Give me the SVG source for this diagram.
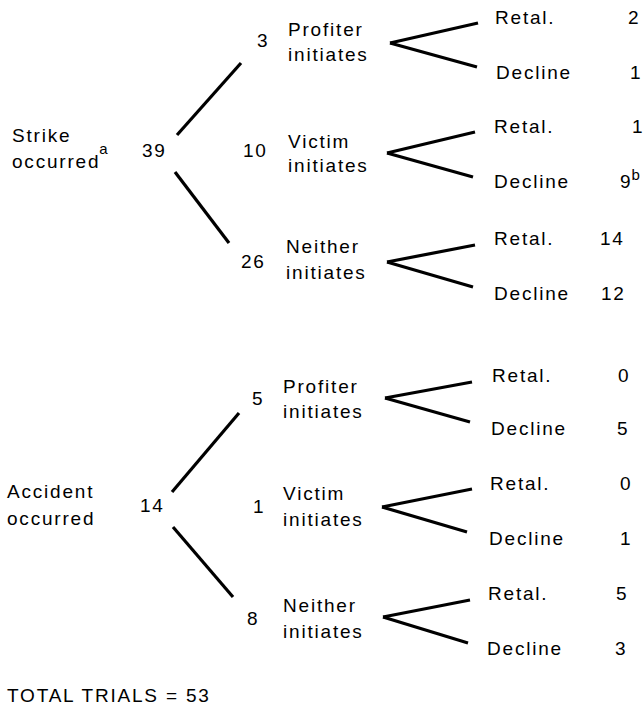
<svg xmlns="http://www.w3.org/2000/svg" width="643" height="709" viewBox="0 0 643 709">
<style>
text{font-family:"Liberation Sans",Arial,sans-serif;font-size:19px;letter-spacing:1.8px;fill:#000}
.sup{font-size:15px;letter-spacing:0}
.c line{stroke:#000;stroke-width:3.2;stroke-linecap:butt}
</style>
<rect width="643" height="709" fill="#fff"/>
<g class="c" id="connectors">
<line x1="177" y1="135" x2="241" y2="63"/>
<line x1="175" y1="172" x2="229" y2="243"/>
<line x1="478" y1="23" x2="390" y2="43"/>
<line x1="390" y1="43" x2="477" y2="67"/>
<line x1="475" y1="132" x2="387" y2="153"/>
<line x1="387" y1="153" x2="473" y2="177"/>
<line x1="475" y1="245" x2="387" y2="262"/>
<line x1="387" y1="262" x2="473" y2="287"/>
<line x1="172" y1="492" x2="239" y2="413"/>
<line x1="173" y1="527" x2="233" y2="597"/>
<line x1="472" y1="382" x2="385" y2="398"/>
<line x1="385" y1="398" x2="470" y2="422"/>
<line x1="472" y1="489" x2="382" y2="507"/>
<line x1="382" y1="507" x2="467" y2="532"/>
<line x1="470" y1="600" x2="383" y2="617"/>
<line x1="383" y1="617" x2="468" y2="643"/>
</g>
<g id="strike">
<text x="12" y="142">Strike</text>
<text x="12" y="168">occurred<tspan class="sup" dx="-1" dy="-14">a</tspan></text>
<text x="142" y="157">39</text>
</g>
<g id="strike-profiter">
<text x="257" y="47">3</text>
<text x="288" y="36">Profiter</text>
<text x="288" y="61">initiates</text>
</g>
<g id="strike-victim">
<text x="243" y="157">10</text>
<text x="288" y="148">Victim</text>
<text x="288" y="172">initiates</text>
</g>
<g id="strike-neither">
<text x="241" y="268">26</text>
<text x="286" y="253">Neither</text>
<text x="286" y="279">initiates</text>
</g>
<g id="sp-retal"><text x="495" y="24">Retal.</text><text x="628" y="24">2</text></g>
<g id="sp-decline"><text x="496" y="79">Decline</text><text x="630" y="79">1</text></g>
<g id="sv-retal"><text x="494" y="133">Retal.</text><text x="632" y="133">1</text></g>
<g id="sv-decline"><text x="494" y="188">Decline</text><text x="620" y="188">9<tspan class="sup" dx="-1" dy="-8">b</tspan></text></g>
<g id="sn-retal"><text x="494" y="245">Retal.</text><text x="600" y="245">14</text></g>
<g id="sn-decline"><text x="494" y="300">Decline</text><text x="601" y="300">12</text></g>
<g id="accident">
<text x="7" y="498">Accident</text>
<text x="7" y="525">occurred</text>
<text x="140" y="512">14</text>
</g>
<g id="accident-profiter">
<text x="252" y="405">5</text>
<text x="283" y="393">Profiter</text>
<text x="283" y="418">initiates</text>
</g>
<g id="accident-victim">
<text x="253" y="513">1</text>
<text x="283" y="500">Victim</text>
<text x="283" y="526">initiates</text>
</g>
<g id="accident-neither">
<text x="247" y="625">8</text>
<text x="283" y="612">Neither</text>
<text x="283" y="638">initiates</text>
</g>
<g id="ap-retal"><text x="492" y="382">Retal.</text><text x="618" y="382">0</text></g>
<g id="ap-decline"><text x="491" y="435">Decline</text><text x="617" y="435">5</text></g>
<g id="av-retal"><text x="490" y="490">Retal.</text><text x="620" y="490">0</text></g>
<g id="av-decline"><text x="489" y="545">Decline</text><text x="620" y="545">1</text></g>
<g id="an-retal"><text x="488" y="600">Retal.</text><text x="616" y="600">5</text></g>
<g id="an-decline"><text x="487" y="655">Decline</text><text x="615" y="655">3</text></g>
<g id="total"><text x="7" y="702">TOTAL  TRIALS = 53</text></g>
</svg>
